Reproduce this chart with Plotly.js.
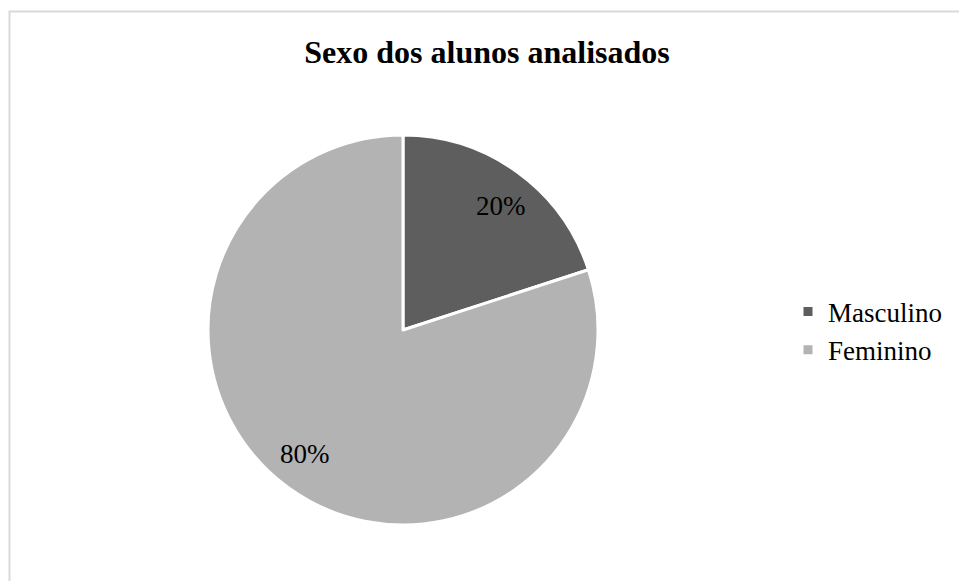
<!DOCTYPE html>
<html>
<head>
<meta charset="utf-8">
<script src="https://cdn.plot.ly/plotly-3.0.1.min.js"></script>
<style>html,body{margin:0;padding:0;background:#fff;}#chart{width:959px;height:581px;}</style>
</head>
<body>
<div id="chart"></div>
<script>
const chartTitle = "Sexo dos alunos analisados";
const categories = ["Masculino", "Feminino"];
const values = [20, 80];
const sliceColors = ["#5e5e5e", "#b3b3b3"];

const W = 959, H = 581;
const serif = "Liberation Serif, Times New Roman, serif";

// pie geometry (pixels)
const pieCx = 403, pieCy = 330, pieR = 195;

const trace = {
  type: "pie",
  labels: categories,
  values: values,
  sort: false,
  direction: "clockwise",
  rotation: 0,
  marker: { colors: sliceColors, line: { color: "#ffffff", width: 3 } },
  textinfo: "none",
  domain: { x: [(pieCx - pieR) / W, (pieCx + pieR) / W], y: [(H - pieCy - pieR) / H, (H - pieCy + pieR) / H] },
  hoverinfo: "label+percent"
};

// percentage labels placed at each slice's mid-angle, derived from the values
const total = values.reduce((a, b) => a + b, 0);
let cum = 0;
const labelAnnotations = values.map(v => {
  const mid = (cum + v / 2) / total * 2 * Math.PI;
  cum += v;
  const r = pieR * 0.81;
  const px = pieCx + r * Math.sin(mid + 0.04);
  const py = pieCy - r * Math.cos(mid + 0.04);
  return {
    xref: "paper", yref: "paper",
    x: px / W, y: 1 - py / H,
    xanchor: "center", yanchor: "middle",
    showarrow: false,
    text: Math.round(v / total * 100) + "%",
    font: { family: serif, size: 27, color: "#000000" }
  };
});

const layout = {
  width: W, height: H,
  margin: { l: 0, r: 0, t: 0, b: 0 },
  paper_bgcolor: "#ffffff",
  title: {
    text: "<b>" + chartTitle + "</b>",
    font: { family: serif, size: 32, color: "#000000" },
    x: 487 / W, xanchor: "center",
    y: 1 - 52 / H, yanchor: "middle", yref: "container"
  },
  showlegend: true,
  legend: {
    x: 788 / W, xanchor: "left",
    y: 1 - 331 / H, yanchor: "middle",
    font: { family: serif, size: 27, color: "#000000" },
    itemwidth: 30,
    bgcolor: "rgba(0,0,0,0)"
  },
  annotations: labelAnnotations,
  shapes: [{
    type: "rect", xref: "paper", yref: "paper",
    x0: 9.5 / W, x1: 1.1, y0: -0.1, y1: 1 - 11.5 / H,
    line: { color: "#d9d9d9", width: 2 }, fillcolor: "rgba(0,0,0,0)"
  }]
};

Plotly.newPlot("chart", [trace], layout, { displayModeBar: false, staticPlot: true });
</script>
</body>
</html>
